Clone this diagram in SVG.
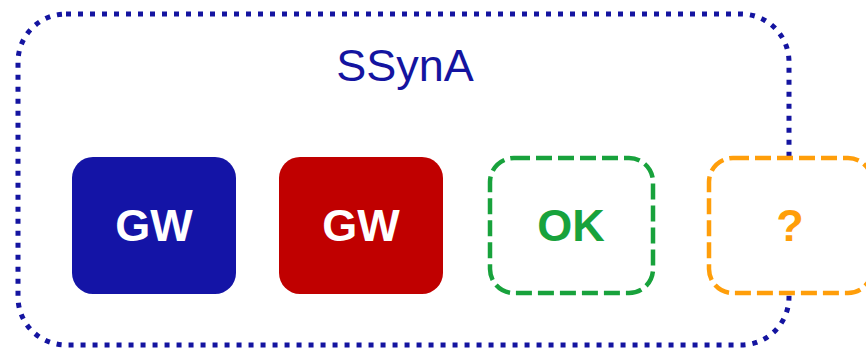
<svg xmlns="http://www.w3.org/2000/svg" width="866" height="348" viewBox="0 0 866 348">
<style>
.lbl{font-family:"Liberation Sans",Arial,sans-serif;font-weight:bold;font-size:45px;text-anchor:middle}
</style>
<rect width="866" height="348" fill="#ffffff"/>
<g id="ssyna">
<rect x="18" y="14" width="771" height="331" rx="48" ry="48" fill="none" stroke="#1414A0" stroke-width="5" stroke-dasharray="5 7"/>
<text x="405" y="81" font-family="'Liberation Sans',Arial,sans-serif" font-size="45" fill="#1414A0" text-anchor="middle">SSynA</text>
</g>
<g id="gw-blue">
<rect x="72" y="157" width="164" height="137" rx="21" fill="#1414A6"/>
<text class="lbl" x="154" y="241" fill="#ffffff">GW</text>
</g>
<g id="gw-red">
<rect x="279" y="157" width="164" height="137" rx="21" fill="#C00000"/>
<text class="lbl" x="361" y="241" fill="#ffffff">GW</text>
</g>
<g id="ok">
<rect x="490" y="158" width="163" height="135" rx="24" fill="#ffffff" stroke="#18A23C" stroke-width="4.5" stroke-dasharray="16 6"/>
<text class="lbl" x="571" y="241" fill="#18A23C">OK</text>
</g>
<g id="unknown">
<rect x="709" y="158" width="163" height="135" rx="24" fill="#ffffff" stroke="#FF9E0A" stroke-width="4.5" stroke-dasharray="16 6"/>
<text class="lbl" x="790" y="241" fill="#FF9E0A">?</text>
</g>
<g id="connectors"/>
</svg>
